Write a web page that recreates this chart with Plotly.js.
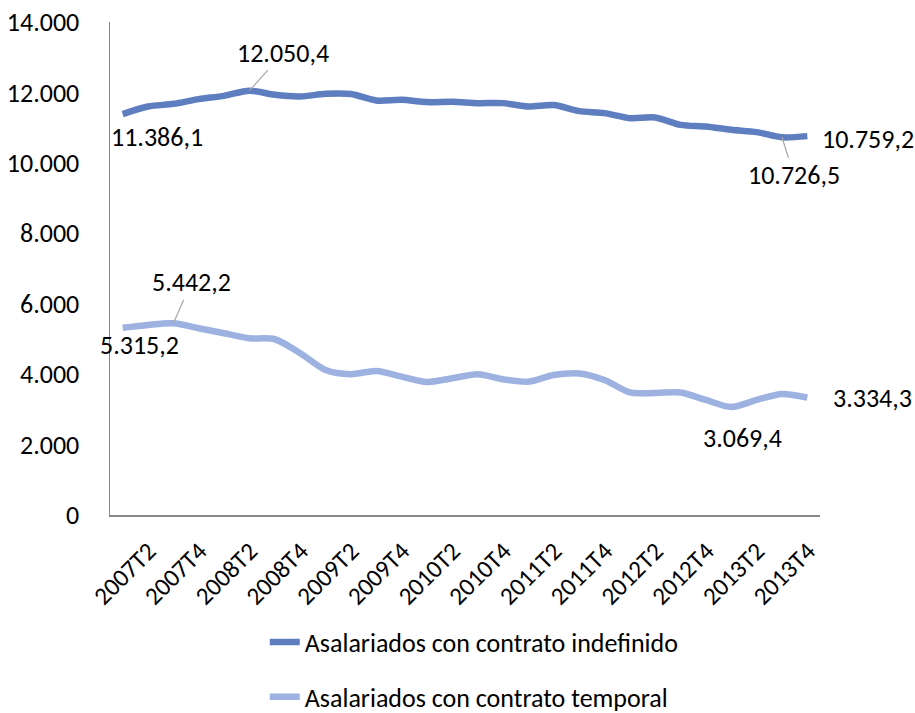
<!DOCTYPE html>
<html>
<head>
<meta charset="utf-8">
<script src="https://cdn.plot.ly/plotly-3.0.1.min.js"></script>
<style>
  body { margin: 0; background: #fff; }
  #grafica { width: 915px; height: 713px; }
</style>
</head>
<body>
<div id="grafica"></div>
<script>
// Trimestres 2007T2 - 2014T1
const trimestres = [
    '2007T2', '2007T3', '2007T4',
    '2008T1', '2008T2', '2008T3', '2008T4',
    '2009T1', '2009T2', '2009T3', '2009T4',
    '2010T1', '2010T2', '2010T3', '2010T4',
    '2011T1', '2011T2', '2011T3', '2011T4',
    '2012T1', '2012T2', '2012T3', '2012T4',
    '2013T1', '2013T2', '2013T3', '2013T4',
    '2014T1'
];

// Miles de personas
const indefinido = [
    11386.1, 11600, 11676, 11810, 11903, 12050.4, 11932,
    11884, 11960, 11955, 11770, 11790, 11725, 11733,
    11696, 11696, 11600, 11640, 11470, 11412, 11270,
    11287, 11080, 11031, 10938, 10872, 10726.5, 10759.2
];

const temporal = [
    5315.2, 5398, 5442.2, 5304, 5162, 5020, 4991,
    4594, 4119, 4000, 4091, 3929, 3778, 3883,
    3997, 3855, 3787, 3977, 4020, 3835, 3480,
    3465, 3480, 3267, 3069.4, 3267, 3437, 3334.3
];

const nombres = [
    'Asalariados con contrato indefinido',
    'Asalariados con contrato temporal'
];

// Etiquetas del eje: una de cada dos
const etiquetasEje = trimestres.filter((_, i) => i % 2 === 0);

const colorIndef = '#5E7EC0';
const colorTemp = '#9DB2E0';
const fuente = 'Carlito, Lato, "Noto Sans", sans-serif';

function formatear(v) {
    // 12050.4 -> "12.050,4"
    const partes = v.toFixed(1).split('.');
    const entero = partes[0].replace(/\B(?=(\d{3})+(?!\d))/g, '.');
    return entero + ',' + partes[1];
}

const trazas = [
    {
        x: trimestres,
        y: indefinido,
        type: 'scatter',
        mode: 'lines',
        name: nombres[0],
        legendgroup: 'a',
        line: { color: colorIndef, width: 6.5, shape: 'spline', smoothing: 0.8 },
        hoverinfo: 'skip'
    },
    {
        x: trimestres,
        y: temporal,
        type: 'scatter',
        mode: 'lines',
        name: nombres[1],
        legendgroup: 'b',
        line: { color: colorTemp, width: 6.5, shape: 'spline', smoothing: 0.8 },
        hoverinfo: 'skip'
    }
];

// Etiquetas de datos: [serie, indice, desplazamiento x, desplazamiento y, con linea guia]
const ultimo = trimestres.length - 1;
const etiquetas = [
    [indefinido, 0, 34, 23, false],
    [indefinido, 5, 34, -38, true],
    [indefinido, 26, 12, 38, true],
    [indefinido, ultimo, 61, 3, false],
    [temporal, 0, 17, 17, false],
    [temporal, 2, 18, -41, true],
    [temporal, 24, 11, 31, false],
    [temporal, ultimo, 65, 0, false]
];

const anotaciones = etiquetas.map(([serie, i, dx, dy, guia]) => {
    const a = {
        x: trimestres[i],
        y: serie[i],
        xref: 'x',
        yref: 'y',
        text: formatear(serie[i]),
        font: { family: fuente, size: 26, color: '#000' }
    };
    if (guia) {
        a.showarrow = true;
        a.ax = dx;
        a.ay = dy;
        a.arrowhead = 0;
        a.arrowwidth = 1.2;
        a.arrowcolor = '#A6A6A6';
        a.standoff = 0;
    } else {
        a.showarrow = false;
        a.xshift = dx;
        a.yshift = -dy;
    }
    return a;
});

const layout = {
    width: 915,
    height: 713,
    margin: { l: 110, r: 95, t: 22, b: 198, autoexpand: false },
    paper_bgcolor: '#ffffff',
    plot_bgcolor: '#ffffff',
    separators: ',.',
    font: { family: fuente, size: 26, color: '#000' },
    showlegend: true,
    legend: {
        x: 0.218,
        y: -0.21,
        xanchor: 'left',
        yanchor: 'top',
        orientation: 'v',
        traceorder: 'grouped',
        tracegroupgap: 18,
        font: { family: fuente, size: 26, color: '#000' }
    },
    xaxis: {
        type: 'category',
        categoryorder: 'array',
        categoryarray: trimestres,
        range: [-0.5, trimestres.length - 0.5],
        tickvals: etiquetasEje,
        ticktext: etiquetasEje,
        tickangle: -45,
        ticks: '',
        ticklabelshift: 26,
        ticklabelstandoff: 10,
        automargin: false,
        showline: true,
        linecolor: '#878787',
        linewidth: 1.5,
        showgrid: false,
        zeroline: false,
        tickfont: { family: fuente, size: 25, color: '#000' }
    },
    yaxis: {
        range: [0, 14000],
        tick0: 0,
        dtick: 2000,
        tickformat: ',d',
        ticks: '',
        ticklabelstandoff: 24,
        automargin: false,
        showline: true,
        linecolor: '#878787',
        linewidth: 1.5,
        showgrid: false,
        zeroline: false,
        tickfont: { family: fuente, size: 26, color: '#000' }
    },
    annotations: anotaciones
};

Plotly.newPlot('grafica', trazas, layout, { staticPlot: true, displayModeBar: false });
</script>
</body>
</html>
